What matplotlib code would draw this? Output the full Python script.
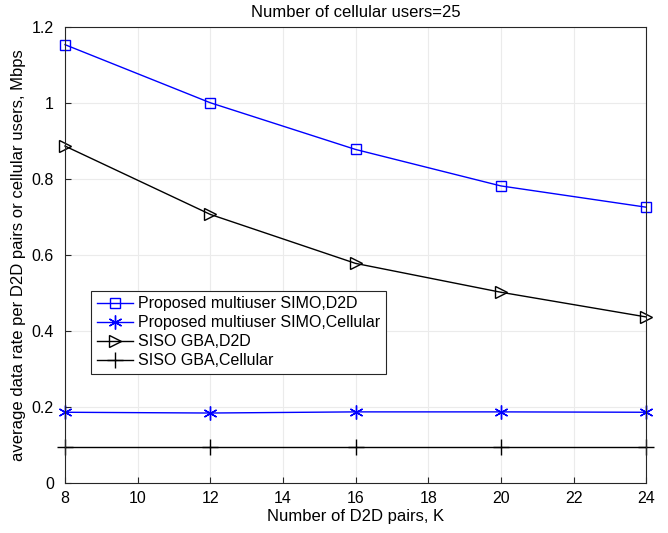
import numpy as np
import matplotlib
matplotlib.use('Agg')
import matplotlib.pyplot as plt

plt.rcParams['font.family'] = ['Liberation Sans', 'DejaVu Sans']

k = [8, 12, 16, 20, 24]
simo_d2d = [1.154, 1.001, 0.878, 0.782, 0.726]
simo_cell = [0.186, 0.184, 0.187, 0.187, 0.186]
siso_d2d = [0.887, 0.707, 0.578, 0.502, 0.437]
siso_cell = [0.094, 0.094, 0.094, 0.094, 0.094]

fig = plt.figure(figsize=(6.68, 5.33), dpi=100)
ax = fig.add_axes([0.0973, 0.094, 0.870, 0.855])

ax.plot(k, simo_d2d, color='#0000ff', marker='s', mfc='none', ms=7, lw=1,
        clip_on=False, label='Proposed multiuser SIMO,D2D')
ax.plot(k, simo_cell, color='#0000ff', marker=(6, 2, 0), ms=10, lw=1,
        clip_on=False, label='Proposed multiuser SIMO,Cellular')
ax.plot(k, siso_d2d, color='black', marker='>', mfc='none', ms=8, lw=1,
        clip_on=False, label='SISO GBA,D2D')
ax.plot(k, siso_cell, color='black', marker='+', ms=12, mew=1, lw=1,
        clip_on=False, label='SISO GBA,Cellular')

ax.set_xlim(8, 24)
ax.set_ylim(0, 1.2)
ax.set_xticks(np.arange(8, 25, 2))
ax.set_yticks([0, 0.2, 0.4, 0.6, 0.8, 1.0, 1.2])
ax.set_yticklabels(['0', '0.2', '0.4', '0.6', '0.8', '1', '1.2'])
ax.grid(True, color='#ebebeb', lw=0.8)
ax.set_axisbelow(True)
ax.tick_params(direction='in', labelsize=11.5, length=4, color='#262626')
ax.tick_params(axis='y', pad=8)
ax.tick_params(axis='x', pad=6)
for s in ax.spines.values():
    s.set_color('#262626')
    s.set_linewidth(0.8)

ax.set_xlabel('Number of D2D pairs, K', fontsize=12, labelpad=2)
ax.set_ylabel('average data rate per D2D pairs or cellular users, Mbps', fontsize=12, labelpad=4)
ax.set_title('Number of cellular users=25', fontsize=12, pad=7)

leg = ax.legend(loc='lower left', bbox_to_anchor=(0.045, 0.239), fontsize=11.5,
                fancybox=False, framealpha=1, edgecolor='#262626',
                borderpad=0.35, labelspacing=0.25, handlelength=2.3,
                handletextpad=0.3, borderaxespad=0)
leg.get_frame().set_linewidth(0.8)

fig.savefig('out.png', dpi=100)
